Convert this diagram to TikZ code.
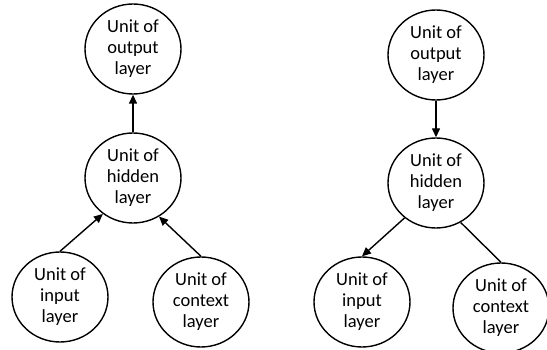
\documentclass[tikz,border=0pt]{standalone}
\usepackage{fontspec}
\setmainfont{Carlito}
\usetikzlibrary{shapes.geometric,arrows.meta}
\tikzset{
  unit/.style={draw=black, line width=1.4pt, ellipse, minimum width=96pt, minimum height=90pt, inner sep=0pt,
    align=center, font=\fontsize{18.5}{21}\selectfont},
  conn/.style={draw=black, line width=1.4pt},
  arr/.style={conn, -{Triangle[length=9pt,width=8pt]}}
}
\begin{document}
\begin{tikzpicture}[x=1pt,y=-1pt]
\useasboundingbox (0,0) rectangle (547,350);
% left diagram
\node[unit] (lout) at (133,49) {Unit of\\output\\layer};
\node[unit] (lhid) at (133,178) {Unit of\\hidden\\layer};
\node[unit] (lin) at (60,297) {Unit of\\input\\layer};
\node[unit] (lctx) at (201,302) {Unit of\\context\\layer};
\draw[arr] (lhid) -- (lout);
\draw[arr] (lin.north) -- (lhid.-130);
\draw[arr] (lctx.north) -- (lhid.-56);
% right diagram
\node[unit] (rout) at (436,55) {Unit of\\output\\layer};
\node[unit] (rhid) at (436,183) {Unit of\\hidden\\layer};
\node[unit] (rin) at (362,302) {Unit of\\input\\layer};
\node[unit] (rctx) at (501,308) {Unit of\\context\\layer};
\draw[arr] (rout) -- (rhid);
\draw[arr] (rhid.-132) -- (rin.north);
\draw[conn] (rhid.-58) -- (rctx.north);
\end{tikzpicture}
\end{document}
